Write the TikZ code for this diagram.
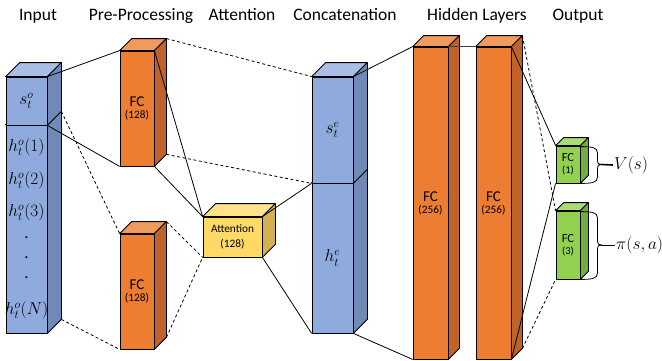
\documentclass[tikz,border=0pt]{standalone}
\usepackage{fontspec}
\setmainfont{Carlito}
\usetikzlibrary{calc}

\definecolor{blueFront}{HTML}{8FAADC}
\definecolor{blueTop}{HTML}{A9BEE6}
\definecolor{blueSide}{HTML}{7189B6}
\definecolor{orangeFront}{HTML}{ED7D31}
\definecolor{orangeTop}{HTML}{F19A5E}
\definecolor{orangeSide}{HTML}{C0632A}
\definecolor{yellowFront}{HTML}{FFD966}
\definecolor{yellowTop}{HTML}{FFE28C}
\definecolor{yellowSide}{HTML}{D2B153}
\definecolor{greenFront}{HTML}{92D050}
\definecolor{greenTop}{HTML}{A9DC73}
\definecolor{greenSide}{HTML}{74AB40}

\newcommand{\bigfc}{\fontsize{15}{16}\selectfont}
\newcommand{\smallnum}{\fontsize{11.3}{13}\selectfont}

% top and side faces of a block, drawn behind the front face node
\newcommand{\cuboid}[4]{%
  \filldraw[fill=#3, line width=0.8pt, line join=round]
    (#1.north west) -- ++(#2,-#2) -- ($(#1.north east)+(#2,-#2)$) -- (#1.north east) -- cycle;
  \filldraw[fill=#4, line width=0.8pt, line join=round]
    (#1.north east) -- ++(#2,-#2) -- ($(#1.south east)+(#2,-#2)$) -- (#1.south east) -- cycle;
}

% curly brace on the right of an output block, tip named #2
\newcommand{\outbrace}[2]{%
  \draw[line width=0.8pt]
    ($(#1.north east)+(0,1)$) .. controls +(12,0) and +(0,-5) .. ++(17,6)
    -- ($(#1.east)+(17,-4)$) .. controls +(0,3) and +(-3,0) .. ($(#1.east)+(21,0)$) coordinate (#2)
    .. controls +(-3,0) and +(0,-3) .. ($(#1.east)+(17,4)$)
    -- ($(#1.south east)+(17,-6)$) .. controls +(0,5) and +(12,0) .. (#1.south east);
}

\tikzset{
  face/.style     = {rectangle, draw=black, line width=0.8pt, inner sep=0pt, align=center, text=black},
  blueface/.style = {face, fill=blueFront, font=\fontsize{16.5}{18}\selectfont},
  orangeface/.style = {face, fill=orangeFront},
  yellowface/.style = {face, fill=yellowFront, font=\fontsize{11.3}{15}\selectfont},
  greenface/.style  = {face, fill=greenFront},
  conn/.style     = {line width=0.8pt},
  dashconn/.style = {conn, dash pattern=on 3pt off 2.5pt},
  title/.style    = {anchor=base, inner sep=0pt, font=\fontsize{17.5}{20}\selectfont},
  mathlbl/.style  = {inner sep=1pt, font=\fontsize{16.5}{18}\selectfont},
}

\begin{document}
\begin{tikzpicture}[x=1pt, y=-1pt]
        \useasboundingbox (0,0) rectangle (662,360);

        % ---------------------------------------------------------------------------
        % Column titles
        % ---------------------------------------------------------------------------
        \node[title] (tInput)  at (38,20)  {Input};
        \node[title] (tPre)    at (141,20) {Pre-Processing};
        \node[title] (tAtt)    at (242,20) {Attention};
        \node[title] (tConcat) at (345,20) {Concatenation};
        \node[title] (tHidden) at (477,20) {Hidden Layers};
        \node[title] (tOutput) at (578,20) {Output};

        % ---------------------------------------------------------------------------
        % Draw blocks
        % ---------------------------------------------------------------------------
        \node[blueface, minimum width=41, minimum height=208] (ho) at (26.5,229) {};
        \cuboid{ho}{14}{blueTop}{blueSide}
        \node[blueface, minimum width=41, minimum height=48]  (so) at (26.5,101) {$s_t^o$};
        \cuboid{so}{14}{blueTop}{blueSide}

        \foreach \yy/\txt [count=\i] in {147/{$h_t^o(1)$}, 180/{$h_t^o(2)$}, 212/{$h_t^o(3)$},
                                         238/{.}, 258/{.}, 278/{.}, 310/{$h_t^o(N)$}}
            \node[mathlbl] (hlbl\i) at (26.5,\yy) {\txt};

        \node[orangeface, minimum width=34, minimum height=115] (fca) at (137,108.5)
            {{\bigfc FC}\\{\smallnum (128)}};
        \cuboid{fca}{12}{orangeTop}{orangeSide}

        \node[orangeface, minimum width=34, minimum height=115] (fcb) at (137,291.5)
            {{\bigfc FC}\\{\smallnum (128)}};
        \cuboid{fcb}{12}{orangeTop}{orangeSide}

        \node[yellowface, minimum width=59, minimum height=40] (att) at (232.5,237)
            {Attention\\(128)};
        \cuboid{att}{13}{yellowTop}{yellowSide}

        \node[blueface, minimum width=41, minimum height=150] (he) at (332.5,258) {$h_t^e$};
        \cuboid{he}{14}{blueTop}{blueSide}
        \node[blueface, minimum width=41, minimum height=106] (se) at (332.5,130) {$s_t^e$};
        \cuboid{se}{14}{blueTop}{blueSide}

        \node[orangeface, minimum width=35, minimum height=312] (hid1) at (430.5,203)
            {{\bigfc FC}\\{\smallnum (256)}};
        \cuboid{hid1}{11}{orangeTop}{orangeSide}

        \node[orangeface, minimum width=35, minimum height=312] (hid2) at (493.5,203)
            {{\bigfc FC}\\{\smallnum (256)}};
        \cuboid{hid2}{11}{orangeTop}{orangeSide}

        \node[greenface, minimum width=24, minimum height=37] (out1) at (568,164.5)
            {{\fontsize{12.4}{13}\selectfont FC}\\{\fontsize{10.5}{12}\selectfont (1)}};
        \cuboid{out1}{8}{greenTop}{greenSide}

        \node[greenface, minimum width=24, minimum height=68] (out3) at (568,245)
            {{\fontsize{12.4}{13}\selectfont FC}\\{\fontsize{10.5}{12}\selectfont (3)}};
        \cuboid{out3}{8}{greenTop}{greenSide}

        % ---------------------------------------------------------------------------
        % Draw connectors
        % ---------------------------------------------------------------------------
        \draw[conn]     (so.north east)                 -- (fca.north west);
        \draw[conn]     (so.south east)                 -- (fca.south west);
        \draw[dashconn] ($(so.south east)+(14,-14)$)    -- (fcb.north west);
        \draw[dashconn] ($(ho.south east)+(14,-14)$)    -- (fcb.south west);

        \draw[dashconn] ($(fca.north east)+(12,-12)$)   -- (se.north west);
        \draw[dashconn] ($(fca.south east)+(12,-12)$)   -- (se.south west);
        \draw[conn]     (fca.north east)                -- (att.north west);
        \draw[conn]     (fca.south east)                -- (att.north west);
        \draw[dashconn] ($(fcb.north east)+(12,-12)$)   -- (att.south west);
        \draw[dashconn] ($(fcb.south east)+(12,-12)$)   -- (att.south west);

        \draw[conn]     (att.north east)                -- (se.south west);
        \draw[conn]     (att.south east)                -- (he.south west);

        \draw[conn]     (se.north east)                 -- (hid1.north west);
        \draw[conn]     (he.south east)                 -- (hid1.south west);
        \draw[conn, draw=black!75] (hid1.north east)    -- (hid2.north west);

        \draw[conn]     (hid2.north east)               -- (out1.north west);
        \draw[conn]     (hid2.south east)               -- (out1.south west);
        \draw[dashconn] ($(hid2.north east)+(11,-11)$)  -- (out3.north west);
        \draw[dashconn] ($(hid2.south east)+(11,-11)$)  -- (out3.south west);

        % ---------------------------------------------------------------------------
        % Output braces
        % ---------------------------------------------------------------------------
        \outbrace{out1}{tipV}
        \outbrace{out3}{tipPi}
        \node[mathlbl, anchor=west] (vlbl)  at (613,165) {$V(s)$};
        \node[mathlbl, anchor=west] (pilbl) at (615,245) {$\pi(s,a)$};
        \draw[line width=1.6pt] (tipV)  -- (vlbl.west);
        \draw[conn]             (tipPi) -- (pilbl.west);

    \end{tikzpicture}
\end{document}
